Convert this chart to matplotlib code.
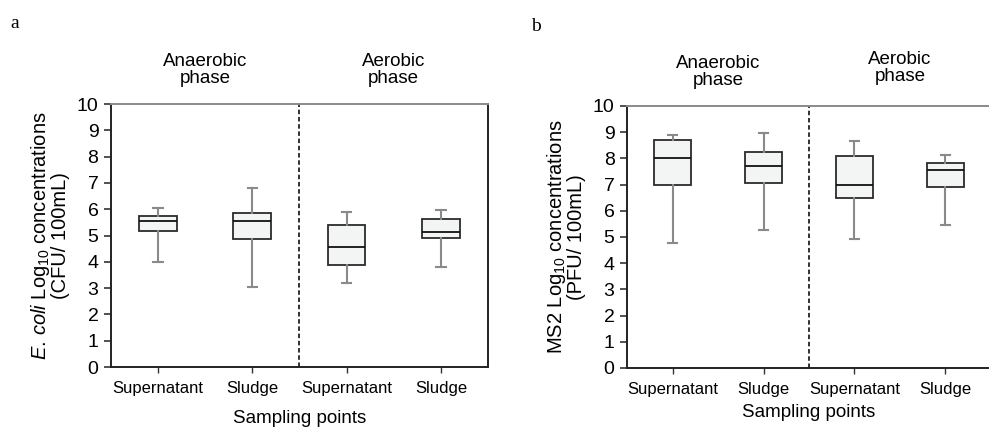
import matplotlib
matplotlib.use("Agg")
import matplotlib.pyplot as plt

plt.rcParams['font.family'] = ['Liberation Sans', 'DejaVu Sans']
plt.rcParams['mathtext.fontset'] = 'custom'
plt.rcParams['mathtext.rm'] = 'Liberation Sans'
plt.rcParams['mathtext.it'] = 'Liberation Sans:italic'

labels = ["Supernatant", "Sludge", "Supernatant", "Sludge"]
phases = ["Anaerobic\nphase", "Aerobic\nphase"]

# panel a: E. coli (whislo, q1, med, q3, whishi)
ecoli_lo  = [4.00, 3.03, 3.19, 3.81]
ecoli_q1  = [5.18, 4.88, 3.89, 4.90]
ecoli_med = [5.54, 5.54, 4.56, 5.13]
ecoli_q3  = [5.74, 5.84, 5.40, 5.64]
ecoli_hi  = [6.06, 6.79, 5.88, 5.97]

# panel b: MS2
ms2_lo  = [4.76, 5.28, 4.91, 5.46]
ms2_q1  = [6.97, 7.05, 6.50, 6.90]
ms2_med = [8.02, 7.72, 7.00, 7.56]
ms2_q3  = [8.71, 8.23, 8.10, 7.82]
ms2_hi  = [8.88, 8.98, 8.68, 8.14]


def stats(lo, q1, med, q3, hi):
    return [dict(whislo=a, q1=b, med=c, q3=d, whishi=e, fliers=[])
            for a, b, c, d, e in zip(lo, q1, med, q3, hi)]


def panel(ax, st, ylabel, phase_y, xpad):
    ax.bxp(st, positions=[1, 2, 3, 4], widths=0.4, patch_artist=True,
           showfliers=False,
           boxprops=dict(facecolor="#f3f4f4", edgecolor="#2b2b2b", linewidth=1.3),
           medianprops=dict(color="#111111", linewidth=1.3),
           whiskerprops=dict(color="#8a8a8a", linewidth=1.5),
           capprops=dict(color="#8a8a8a", linewidth=1.5),
           capwidths=0.1)
    ax.set_xlim(0.5, 4.5)
    ax.set_ylim(0, 10)
    ax.set_yticks(range(0, 11))
    ax.set_xticks([1, 2, 3, 4])
    ax.set_xticklabels(labels, fontsize=12)
    ax.tick_params(axis="y", labelsize=14, length=5, width=1.2, pad=4, color="#333333")
    ax.tick_params(axis="x", length=4, width=1.0, pad=6, color="#333333")
    ax.axvline(2.5, color="#222222", linestyle=(0, (2.5, 1.5)), linewidth=1.3)
    ax.spines["top"].set_color("#8a8a8a")
    for s in ["left", "bottom", "right"]:
        ax.spines[s].set_color("#222222")
    for s in ax.spines.values():
        s.set_linewidth(1.4)
    ax.set_ylabel(ylabel, fontsize=14.5, labelpad=5, linespacing=0.95)
    ax.set_xlabel("Sampling points", fontsize=13.5, labelpad=xpad)
    for x, t, yy in zip([1.5, 3.5], phases, phase_y):
        ax.text(x, yy, t, transform=ax.get_xaxis_transform(), ha="center",
                va="bottom", fontsize=13.5, linespacing=1.0)


fig = plt.figure(figsize=(9.89, 4.30), dpi=100)
ax1 = fig.add_axes([0.1122, 0.1465, 0.3812, 0.6116])
ax2 = fig.add_axes([0.634, 0.1442, 0.368, 0.6093])

panel(ax1, stats(ecoli_lo, ecoli_q1, ecoli_med, ecoli_q3, ecoli_hi),
      "$\\mathit{E.}\\,\\mathit{coli}$ Log$_{10}$ concentrations\n(CFU/ 100mL)",
      [1.065, 1.065], 10)
panel(ax2, stats(ms2_lo, ms2_q1, ms2_med, ms2_q3, ms2_hi),
      "MS2 Log$_{10}$ concentrations\n(PFU/ 100mL)", [1.065, 1.08], 5)

fig.text(0.010, 0.965, "a", family="Liberation Serif", fontsize=14, va="top")
fig.text(0.537, 0.958, "b", family="Liberation Serif", fontsize=14, va="top")

fig.savefig("out.png", dpi=100)
